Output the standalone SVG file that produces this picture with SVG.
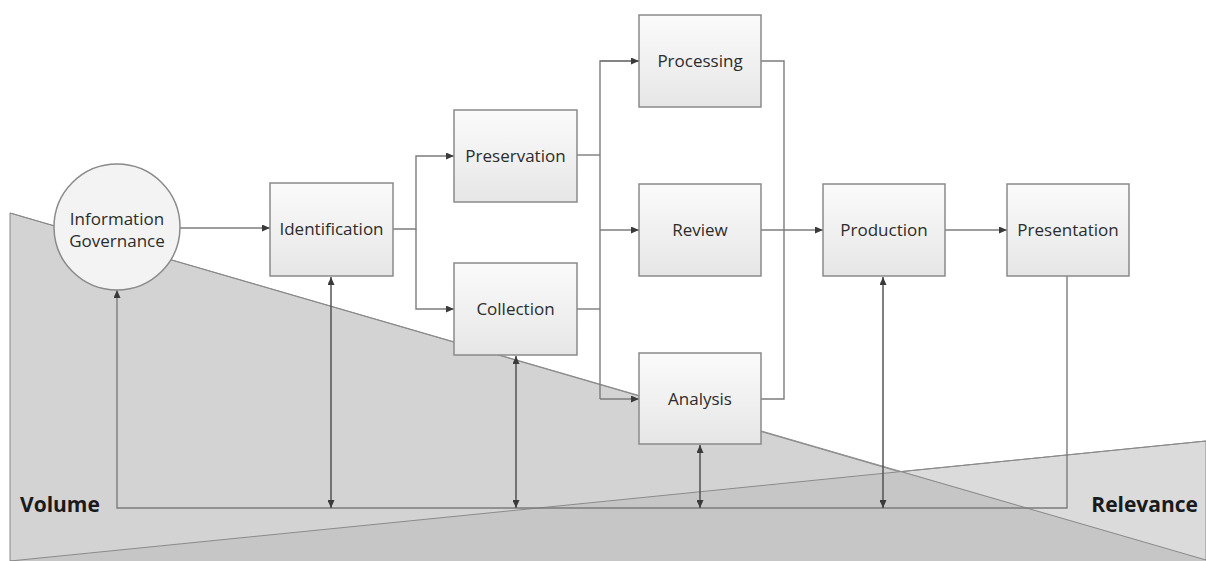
<svg xmlns="http://www.w3.org/2000/svg" width="1206" height="561" viewBox="0 0 1206 561">
  <defs>
    <linearGradient id="boxFill" x1="0" y1="0" x2="0" y2="1">
      <stop offset="0" stop-color="#fbfbfb"/>
      <stop offset="1" stop-color="#e6e6e6"/>
    </linearGradient>
    <marker id="arrow" markerUnits="userSpaceOnUse" viewBox="0 0 8 7" markerWidth="8" markerHeight="7" refX="8" refY="3.5" orient="auto-start-reverse">
      <path d="M0,0 L8,3.5 L0,7 z" fill="#3a3a3a"/>
    </marker>
    <style>
      .box { fill: url(#boxFill); stroke: #8a8a8a; stroke-width: 1.5; }
      .circ { fill: #f3f3f3; stroke: #8a8a8a; stroke-width: 1.5; }
      .label { font-family: "Open Sans", "Liberation Sans", sans-serif; font-size: 17px; font-weight: 500; fill: #2c2c2c; text-anchor: middle; }
      .axis { font-family: "Open Sans", "Liberation Sans", sans-serif; font-size: 21px; font-weight: bold; fill: #1a1a1a; }
      .flow { fill: none; stroke: #7c7c7c; stroke-width: 1.4; }
      .link { fill: none; stroke: #4a4a4a; stroke-width: 1.4; }
      .wedge { stroke: #8a8a8a; stroke-width: 1; }
    </style>
  </defs>

  <rect width="1206" height="561" fill="#ffffff"/>

  <!-- background wedges: volume falls, relevance rises -->
  <g id="wedges">
    <polygon class="wedge" points="10,561 1206,441 1206,561" fill="#dbdbdb"/>
    <polygon class="wedge" points="10,213 10,561 1206,560 1206,561" fill="#d3d3d3"/>
    <polygon points="10,561 901,472 1206,560 1206,561" fill="#c6c6c6"/>
    <path d="M10,561 L1206,441" class="wedge" fill="none"/>
    <path d="M10,213 L1206,560" class="wedge" fill="none"/>
  </g>

  <!-- connectors -->
  <g id="connectors">
    <path class="flow" d="M180,228 H270" marker-end="url(#arrow)"/>
    <path class="flow" d="M393,229 H416 V156 H454" marker-end="url(#arrow)"/>
    <path class="flow" d="M416,229 V309 H454" marker-end="url(#arrow)"/>
    <path class="flow" d="M577,155 H600"/>
    <path class="flow" d="M577,309 H600"/>
    <path class="flow" d="M639,61 H600 V399"/>
    <path class="flow" d="M600,61 H639" marker-end="url(#arrow)"/>
    <path class="flow" d="M600,230 H639" marker-end="url(#arrow)"/>
    <path class="flow" d="M600,399 H639" marker-end="url(#arrow)"/>
    <path class="flow" d="M761,61 H784 V399 H761"/>
    <path class="flow" d="M761,230 H823" marker-end="url(#arrow)"/>
    <path class="flow" d="M945,230 H1007" marker-end="url(#arrow)"/>
    <path class="flow" d="M1067,276 V508 H117 V290" marker-end="url(#arrow)"/>
    <path class="link" d="M331,277 V508" marker-start="url(#arrow)" marker-end="url(#arrow)"/>
    <path class="link" d="M516,356 V508" marker-start="url(#arrow)" marker-end="url(#arrow)"/>
    <path class="link" d="M700,445 V508" marker-start="url(#arrow)" marker-end="url(#arrow)"/>
    <path class="link" d="M883,277 V508" marker-start="url(#arrow)" marker-end="url(#arrow)"/>
  </g>

  <!-- nodes -->
  <g id="information-governance">
    <circle class="circ" cx="117" cy="227" r="63"/>
    <text class="label" x="117" y="225">Information</text>
    <text class="label" x="117" y="247">Governance</text>
  </g>
  <g id="identification">
    <rect class="box" x="270" y="183" width="123" height="93"/>
    <text class="label" x="331.5" y="235">Identification</text>
  </g>
  <g id="preservation">
    <rect class="box" x="454" y="110" width="123" height="92"/>
    <text class="label" x="515.5" y="162">Preservation</text>
  </g>
  <g id="collection">
    <rect class="box" x="454" y="263" width="123" height="92"/>
    <text class="label" x="515.5" y="315">Collection</text>
  </g>
  <g id="processing">
    <rect class="box" x="639" y="15" width="122" height="92"/>
    <text class="label" x="700" y="67">Processing</text>
  </g>
  <g id="review">
    <rect class="box" x="639" y="184" width="122" height="92"/>
    <text class="label" x="700" y="236">Review</text>
  </g>
  <g id="analysis">
    <rect class="box" x="639" y="353" width="122" height="91"/>
    <text class="label" x="700" y="405">Analysis</text>
  </g>
  <g id="production">
    <rect class="box" x="823" y="184" width="122" height="92"/>
    <text class="label" x="884" y="236">Production</text>
  </g>
  <g id="presentation">
    <rect class="box" x="1007" y="184" width="122" height="92"/>
    <text class="label" x="1068" y="236">Presentation</text>
  </g>

  <!-- axis labels -->
  <g id="axis-labels">
    <text class="axis" x="20" y="512">Volume</text>
    <text class="axis" x="1198" y="512" text-anchor="end">Relevance</text>
  </g>
</svg>
